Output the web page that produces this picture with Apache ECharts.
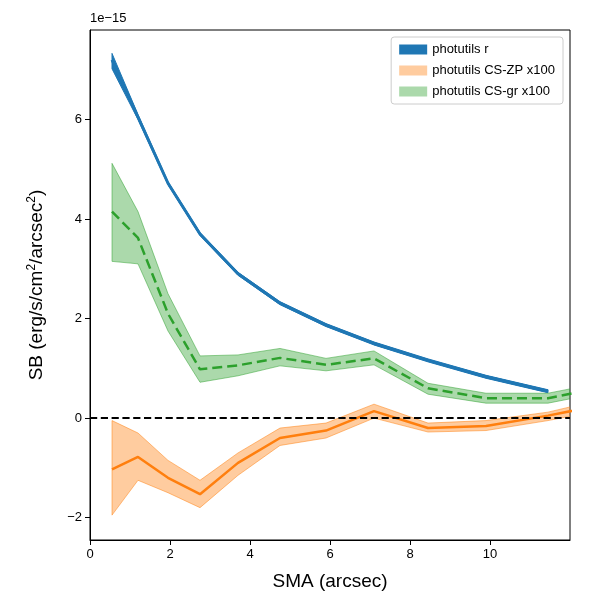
<!DOCTYPE html>
<html>
<head>
<meta charset="utf-8">
<script src="https://cdn.jsdelivr.net/npm/echarts@6/dist/echarts.min.js"></script>
</head>
<body style="margin:0">
<div id="main" style="width:600px;height:600px;"></div>
<script>
// SMA positions (arcsec); values in units of 1e-15
let sma = [0.55, 1.2, 1.95, 2.75, 3.7, 4.75, 5.9, 7.1, 8.45, 9.9, 11.45, 12.4];
let rMean = [7.2, 6.05, 4.72, 3.7, 2.9, 2.31, 1.87, 1.5, 1.16, 0.83, 0.54];
let rLow  = [7.02, 6.0, 4.69, 3.67, 2.87, 2.28, 1.84, 1.47, 1.13, 0.8, 0.51];
let rHigh = [7.33, 6.1, 4.75, 3.73, 2.93, 2.34, 1.9, 1.53, 1.19, 0.86, 0.57];
let zpMean = [-1.03, -0.78, -1.2, -1.53, -0.9, -0.4, -0.25, 0.14, -0.2, -0.16, 0.05, 0.2];
let zpLow  = [-1.95, -1.25, -1.5, -1.8, -1.15, -0.55, -0.4, 0.0, -0.28, -0.25, -0.05, 0.1];
let zpHigh = [-0.05, -0.3, -0.85, -1.25, -0.7, -0.2, -0.1, 0.28, -0.1, -0.05, 0.12, 0.3];
let grMean = [4.15, 3.62, 2.1, 0.98, 1.06, 1.21, 1.07, 1.2, 0.6, 0.4, 0.4, 0.55];
let grLow  = [3.15, 3.1, 1.75, 0.72, 0.85, 1.05, 0.95, 1.07, 0.48, 0.3, 0.3, 0.45];
let grHigh = [5.12, 4.15, 2.5, 1.25, 1.27, 1.4, 1.2, 1.35, 0.7, 0.5, 0.5, 0.65];

function pairs(ys) { return ys.map((y, i) => [sma[i], y]); }

// filled band between low and high, drawn as one polygon through the axes
function band(name, low, high, fill, edge) {
    let data = low.map((l, i) => [sma[i], l, high[i]]);
    return {
        name: name, type: 'custom', z: 1, clip: true,
        itemStyle: { color: fill },
        data: data,
        encode: { x: 0, y: [1, 2] },
        renderItem: function (params, api) {
            if (params.dataIndex !== 0) return null;
            let top = [], bot = [];
            for (let i = 0; i < data.length; i++) {
                top.push(api.coord([data[i][0], data[i][2]]));
                bot.unshift(api.coord([data[i][0], data[i][1]]));
            }
            return {
                type: 'polygon',
                shape: { points: top.concat(bot) },
                style: { fill: fill, stroke: edge, lineWidth: 1 }
            };
        }
    };
}

let myChart = echarts.init(document.getElementById('main'));
let options = {
    animation: false,
    grid: { left: 90, right: 30, top: 30, bottom: 60, show: true, borderColor: '#000', borderWidth: 1, backgroundColor: 'transparent' },
    graphic: [{ type: 'text', left: 90, top: 12, style: { text: '1e\u221215', fontSize: 13, fill: '#000' } }],
    legend: {
        orient: 'vertical', right: 37, top: 37, itemWidth: 28, itemHeight: 10, itemGap: 8,
        borderColor: '#ccc', borderWidth: 1, borderRadius: 3, padding: [6, 8],
        icon: 'rect', textStyle: { fontSize: 13, color: '#000' },
        data: ['photutils r', 'photutils CS-ZP x100', 'photutils CS-gr x100']
    },
    xAxis: {
        type: 'value', min: 0, max: 12,
        name: 'SMA (arcsec)', nameLocation: 'middle', nameGap: 32, nameTextStyle: { fontSize: 19, color: '#000' },
        axisLine: { onZero: false, lineStyle: { color: '#000' } },
        axisTick: { customValues: [0, 2, 4, 6, 8, 10], lineStyle: { color: '#000' } },
        axisLabel: { customValues: [0, 2, 4, 6, 8, 10], color: '#000', fontSize: 13 },
        splitLine: { show: false }
    },
    yAxis: {
        type: 'value', min: -2.45, max: 7.8,
        name: 'SB (erg/s/cm{s|2}/arcsec{s|2})', nameLocation: 'middle', nameGap: 42,
        nameTextStyle: { fontSize: 19, color: '#000', rich: { s: { fontSize: 12, verticalAlign: 'top', padding: [0, 0, 10, 0] } } },
        axisLine: { show: true, onZero: false, lineStyle: { color: '#000' } },
        axisTick: { show: true, customValues: [-2, 0, 2, 4, 6], lineStyle: { color: '#000' } },
        axisLabel: { customValues: [-2, 0, 2, 4, 6], color: '#000', fontSize: 13, formatter: v => String(v).replace('-', '\u2212') },
        splitLine: { show: false }
    },
    series: [
        band('photutils r', rLow, rHigh, '#1f77b4', '#1f77b4'),
        band('photutils CS-ZP x100', zpLow, zpHigh, 'rgba(255,127,14,0.4)', 'rgba(255,127,14,0.5)'),
        band('photutils CS-gr x100', grLow, grHigh, 'rgba(44,160,44,0.4)', 'rgba(44,160,44,0.5)'),
        { type: 'line', data: pairs(rMean), symbol: 'none', lineStyle: { color: '#1f77b4', width: 3 }, z: 3 },
        { type: 'line', data: pairs(zpMean), symbol: 'none', lineStyle: { color: '#ff7f0e', width: 2.5 }, z: 3,
          markLine: { silent: true, symbol: 'none', label: { show: false },
                      lineStyle: { color: '#000', type: 'dashed', width: 1.8 }, data: [{ yAxis: 0 }] } },
        { type: 'line', data: pairs(grMean), symbol: 'none', lineStyle: { color: '#2ca02c', width: 2.5, type: 'dashed' }, z: 3 }
    ]
};
myChart.setOption(options);
</script>
</body>
</html>
